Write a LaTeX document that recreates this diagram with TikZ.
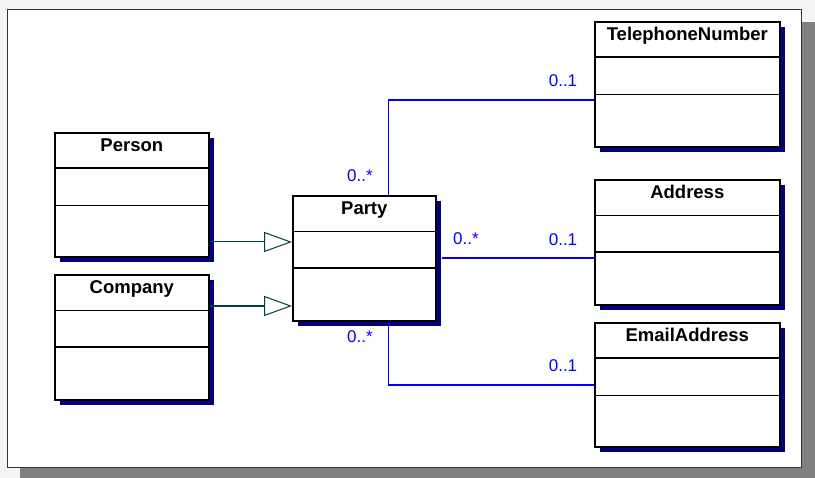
\documentclass[tikz,border=0pt]{standalone}
\usepackage{fontspec}
\setmainfont{Liberation Sans}
\usetikzlibrary{arrows.meta,shadows}
\definecolor{umlshadow}{RGB}{0,0,128}
\definecolor{genline}{RGB}{0,64,64}
\definecolor{assocline}{RGB}{0,0,255}
\definecolor{pagebg}{RGB}{244,244,244}
\definecolor{frameshadow}{RGB}{128,128,128}
\tikzset{
  cls/.style={draw, line width=1.6pt, fill=white, anchor=north west, inner sep=0pt,
    drop shadow={fill=umlshadow, opacity=1, shadow xshift=5pt, shadow yshift=-5pt}},
  clsname/.style={font=\fontsize{18.5}{20}\selectfont\bfseries, inner sep=0pt, anchor=base},
  mult/.style={font=\fontsize{17}{19}\selectfont, text=assocline, inner sep=0pt},
  gen/.style={draw=genline, -{Triangle[open, length=28pt, width=20pt, line width=1pt]}},
  assoc/.style={draw=assocline, line width=2pt},
  assocthin/.style={draw=assocline, line width=1pt}
}
\begin{document}
\begin{tikzpicture}[x=1pt, y=-1pt, line join=miter]
  \useasboundingbox (0,0) rectangle (815,478);
  % page and frame
  \fill[pagebg] (0,0) rectangle (815,478);
  \fill[frameshadow] (20,22) rectangle (815,478);
  \draw[fill=white, draw=black!80, line width=1pt] (7,10) rectangle (801,468);
  % classes: name/x/y/width/height/title/first divider/second divider
  \foreach \n/\x/\y/\w/\h/\t/\da/\db in {
      person/54/132/154/124/Person/1.6/0.9,
      company/54/274/154/125/Company/0.9/1.6,
      party/292/195/143/125/Party/0.9/1.6,
      tel/594/21/185/125/TelephoneNumber/1.6/0.9,
      addr/594/179/185/125/Address/0.9/1.6,
      email/594/322/185/124/EmailAddress/1.6/0.9}{
    \node[cls, minimum width=\w pt, minimum height=\h pt] (\n) at (\x,\y) {};
    \node[clsname] (\n-name) at ([yshift=-20pt]\n.north) {\t};
    \draw[line width=\da pt] ([yshift=-36pt]\n.north west) -- ([yshift=-36pt]\n.north east);
    \draw[line width=\db pt] ([yshift=-73pt]\n.north west) -- ([yshift=-73pt]\n.north east);
  }
  % generalizations
  \coordinate (gp) at (292,242);
  \coordinate (gc) at (292,306);
  \draw[gen, line width=1pt] (person.east |- gp) -- (gp);
  \draw[gen, line width=2pt] (company.east |- gc) -- (gc);
  % associations
  \coordinate (tp) at (388,100);
  \coordinate (ep) at (388,385);
  \draw[assocthin] (party.north -| tp) -- (tp);
  \draw[assoc] (tp) -- (tel.west |- tp);
  \draw[assoc] ([xshift=5pt]party.east) -- (party.east -| addr.west);
  \draw[assocthin] (party.south -| ep) -- (ep);
  \draw[assoc] (ep) -- (email.west |- ep);
  % multiplicities
  \node[mult] (m-tp) at (360,176) {0..*};
  \node[mult] (m-tt) at (563,81) {0..1};
  \node[mult] (m-ap) at (466,239) {0..*};
  \node[mult] (m-aa) at (563,240) {0..1};
  \node[mult] (m-ep) at (360,337) {0..*};
  \node[mult] (m-ee) at (563,366) {0..1};
\end{tikzpicture}
\end{document}
